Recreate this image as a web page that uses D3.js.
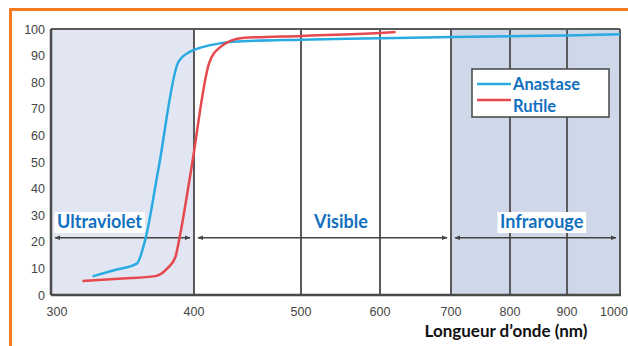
<!DOCTYPE html>
<html lang="fr">
<head>
<meta charset="utf-8">
<title>Transmission TiO2</title>
<script src="https://cdn.jsdelivr.net/npm/d3@7"></script>
<style>
  body { margin: 0; background: #fff; }
  text { font-family: "Liberation Sans", Arial, sans-serif; }
  .lbl { font-family: Lato, "Open Sans", sans-serif; font-weight: bold; }
</style>
</head>
<body>
<svg id="chart" width="628" height="346"></svg>
<script>
  // données
  const xTicks = [300, 400, 500, 600, 700, 800, 900, 1000]
  const yTicks = [0, 10, 20, 30, 40, 50, 60, 70, 80, 90, 100]
  const anastaseNm = [329, 344, 360, 366, 375, 389, 397, 408, 424, 436, 500, 600, 700, 800, 900, 1000]
  const anastaseT = [7, 9.3, 11.8, 21, 47, 87.5, 91.4, 93.2, 94.6, 95.2, 96, 96.5, 97, 97.3, 97.6, 98]
  const rutileNm = [322, 350, 373, 381, 387, 390, 398, 414, 424, 445, 500, 600, 622]
  const rutileT = [5.3, 6.2, 7.1, 9.8, 14.3, 21.8, 47, 87, 93, 96.6, 97.4, 98.5, 98.9]
  const regions = [
    { name: "Ultraviolet", from: 300, to: 400, fill: "#e2e6f2", box: true },
    { name: "Visible", from: 400, to: 700, fill: null, box: false },
    { name: "Infrarouge", from: 700, to: 1000, fill: "#cfd8e9", box: true }
  ]
  const series = [
    { name: "Anastase", color: "#29abe2", nm: anastaseNm, t: anastaseT },
    { name: "Rutile", color: "#e5484d", nm: rutileNm, t: rutileT }
  ]

  const svg = d3.select("#chart")
  const pLeft = 51, pRight = 620, pTop = 29, pBottom = 295
  const w = pRight - pLeft
  // début des étiquettes de région (px)
  const labelX = [57, 314, 500]

  // l'axe des x n'est pas linéaire sur l'original
  const x = d3.scaleLinear()
    .domain(xTicks)
    .range([0, .2513, .4394, .5782, .703, .8067, .9069, 1].map(f => pLeft + f * w))
  const y = d3.scaleLinear().domain([0, 100]).range([pBottom, pTop])

  // cadre orange
  svg.append("path")
    .attr("d", "M10.5,346 V9.5 H628")
    .attr("fill", "none").attr("stroke", "#f47b20").attr("stroke-width", 3)

  // fonds des régions
  svg.selectAll(".reg").data(regions.filter(r => r.fill)).join("rect")
    .attr("x", d => x(d.from)).attr("y", pTop)
    .attr("width", d => x(d.to) - x(d.from)).attr("height", pBottom - pTop)
    .attr("fill", d => d.fill)

  // lignes verticales
  svg.selectAll(".vl").data(xTicks.slice(1)).join("line")
    .attr("x1", d => x(d)).attr("x2", d => x(d))
    .attr("y1", pTop).attr("y2", pBottom)
    .attr("stroke", "#5a5a5a").attr("stroke-width", 2)

  svg.append("line").attr("x1", pLeft).attr("x2", pRight).attr("y1", pTop).attr("y2", pTop)
    .attr("stroke", "#5a5a5a").attr("stroke-width", 2)
  svg.append("line").attr("x1", pLeft).attr("x2", pLeft).attr("y1", pTop).attr("y2", pBottom)
    .attr("stroke", "#4a4a4a").attr("stroke-width", 2.5)
  svg.append("line").attr("x1", pLeft).attr("x2", pRight + 1).attr("y1", pBottom).attr("y2", pBottom)
    .attr("stroke", "#4a4a4a").attr("stroke-width", 2.5)

  // flèches des régions
  const defs = svg.append("defs")
  defs.append("marker").attr("id", "ah").attr("viewBox", "0 0 10 10")
    .attr("refX", 9).attr("refY", 5).attr("markerWidth", 4).attr("markerHeight", 4)
    .attr("orient", "auto-start-reverse")
    .append("path").attr("d", "M0,1 L10,5 L0,9 Z").attr("fill", "#444")

  const arrowY = y(21.5)
  svg.selectAll(".arr").data(regions).join("line")
    .attr("x1", d => x(d.from) + 4).attr("x2", d => x(d.to) - 4)
    .attr("y1", arrowY).attr("y2", arrowY)
    .attr("stroke", "#444").attr("stroke-width", 1.5)
    .attr("marker-start", "url(#ah)").attr("marker-end", "url(#ah)")

  // étiquettes des régions
  regions.forEach((r, i) => {
    const t = svg.append("text").attr("class", "lbl")
      .attr("x", labelX[i]).attr("y", 228)
      .attr("font-size", 18).attr("fill", "#1270c0").text(r.name)
    if (r.box) {
      const bb = t.node().getBBox()
      svg.insert("rect", () => t.node())
        .attr("x", bb.x - 2.5).attr("y", 212).attr("width", bb.width + 5).attr("height", 21)
        .attr("fill", "#fff")
    }
  })

  // courbes
  const line = d3.line().curve(d3.curveMonotoneX)
  series.forEach(s => {
    svg.append("path")
      .datum(s.nm.map((v, i) => [x(v), y(s.t[i])]))
      .attr("d", line)
      .attr("fill", "none").attr("stroke", s.color).attr("stroke-width", 2.5)
      .attr("stroke-linejoin", "round")
  })

  // axes
  svg.selectAll(".yt").data(yTicks).join("text")
    .attr("x", 45).attr("y", d => y(d) + 4.5).attr("text-anchor", "end")
    .attr("font-size", 12.5).attr("fill", "#444").text(d => d)
  svg.selectAll(".xt").data(xTicks).join("text")
    .attr("x", (d, i) => x(d) + (i === 0 ? 6 : i === xTicks.length - 1 ? -6 : 0))
    .attr("y", 316).attr("text-anchor", "middle")
    .attr("font-size", 12.5).attr("fill", "#444").text(d => d)

  svg.append("text").attr("class", "lbl")
    .attr("x", 506).attr("y", 337).attr("text-anchor", "middle")
    .attr("font-size", 17).attr("fill", "#111").text("Longueur d\u2019onde (nm)")

  // légende
  svg.append("rect").attr("x", 472).attr("y", 69).attr("width", 137).attr("height", 48)
    .attr("fill", "#fff").attr("stroke", "#444").attr("stroke-width", 1.5)
  series.forEach((s, i) => {
    const ly = 84 + i * 16
    svg.append("line").attr("x1", 477).attr("x2", 511).attr("y1", ly).attr("y2", ly)
      .attr("stroke", s.color).attr("stroke-width", 2.5)
    svg.append("text").attr("class", "lbl").attr("x", 513).attr("y", 90 + i * 22)
      .attr("font-size", 16.5).attr("fill", "#1270c0").text(s.name)
  })
</script>
</body>
</html>
